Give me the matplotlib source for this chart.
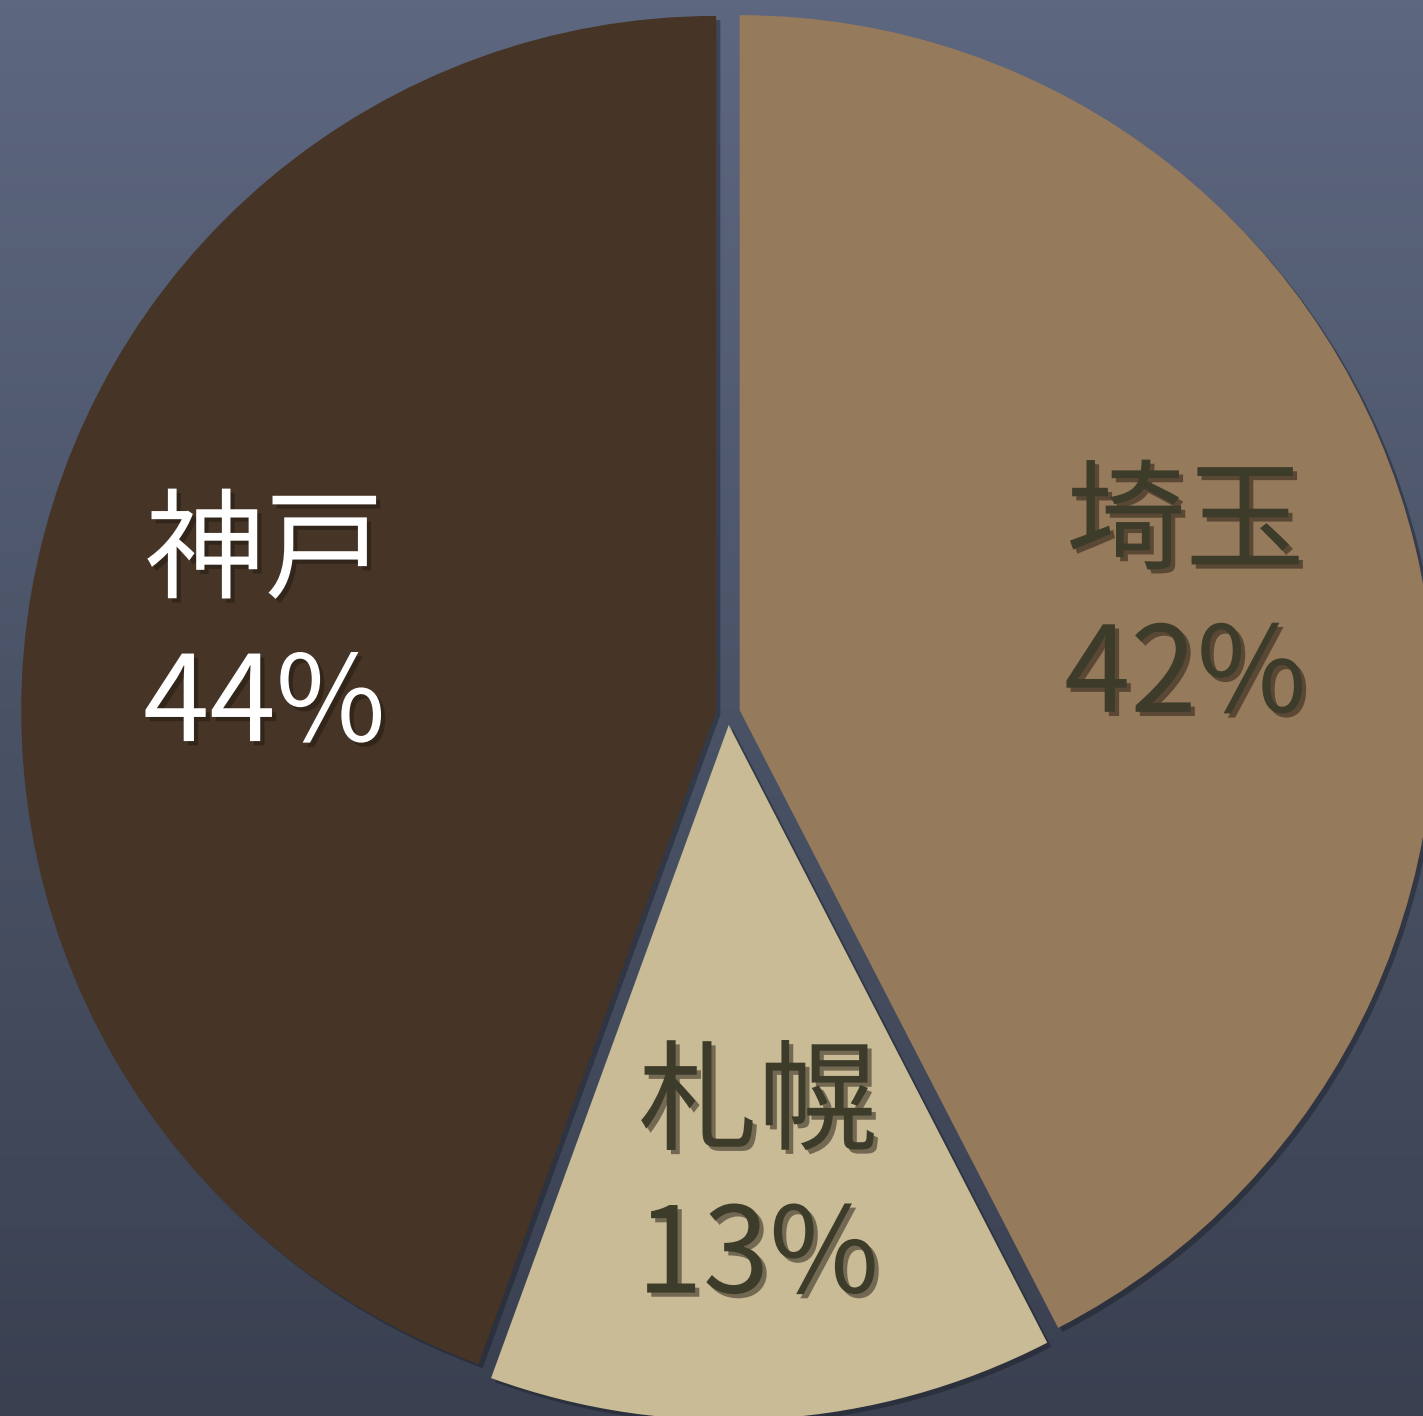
import numpy as np
import matplotlib
matplotlib.use("Agg")
import matplotlib.pyplot as plt
import matplotlib.patheffects as pe
from matplotlib.colors import LinearSegmentedColormap

plt.rcParams['font.family'] = ['Noto Sans CJK JP', 'DejaVu Sans']

# data
cities = ["埼玉", "札幌", "神戸"]
shares = [42, 13, 44]
slice_colors = ["#967a5c", "#c8bb96", "#463426"]
text_colors = ["#3d3c2a", "#3d3c2a", "#ffffff"]

W, H = 1423, 1416
fig = plt.figure(figsize=(W / 100, H / 100), dpi=100)
ax = fig.add_axes([0, 0, 1, 1])

# chalkboard-ish background gradient
bg = LinearSegmentedColormap.from_list("bg", ["#3a4050", "#4a5366", "#5d6780"])
grad = np.linspace(0, 1, 256).reshape(-1, 1)
ax.imshow(grad, cmap=bg, extent=[0, W, 0, H], origin="lower",
          aspect="auto", zorder=0)

labels = [f"{c}\n{s}%" for c, s in zip(cities, shares)]
# explode is in data units here (pixels), pie radius 695
wedges, texts = ax.pie(
    shares, labels=labels, colors=slice_colors, startangle=90,
    counterclock=False, center=(728, 703), radius=695,
    explode=[12] * 3, labeldistance=0.66, frame=True,
    wedgeprops=dict(linewidth=0),
)

for w in wedges:
    w.set_zorder(2)
    w.set_path_effects([pe.withSimplePatchShadow(offset=(3, -3),
                                                 shadow_rgbFace="#1a1d26",
                                                 alpha=0.45)])

for t, col in zip(texts, text_colors):
    t.set_color(col)
    t.set_fontsize(86)
    t.set_ha("center")
    t.set_va("center")
    t.set_linespacing(1.3)
    t.set_zorder(3)
    t.set_path_effects([pe.withSimplePatchShadow(offset=(3, -3),
                                                 shadow_rgbFace="#1f1810",
                                                 alpha=0.5)])

ax.set_xlim(0, W)
ax.set_ylim(0, H)
ax.set_aspect("auto")
ax.axis("off")

fig.savefig("out.png", dpi=100)
